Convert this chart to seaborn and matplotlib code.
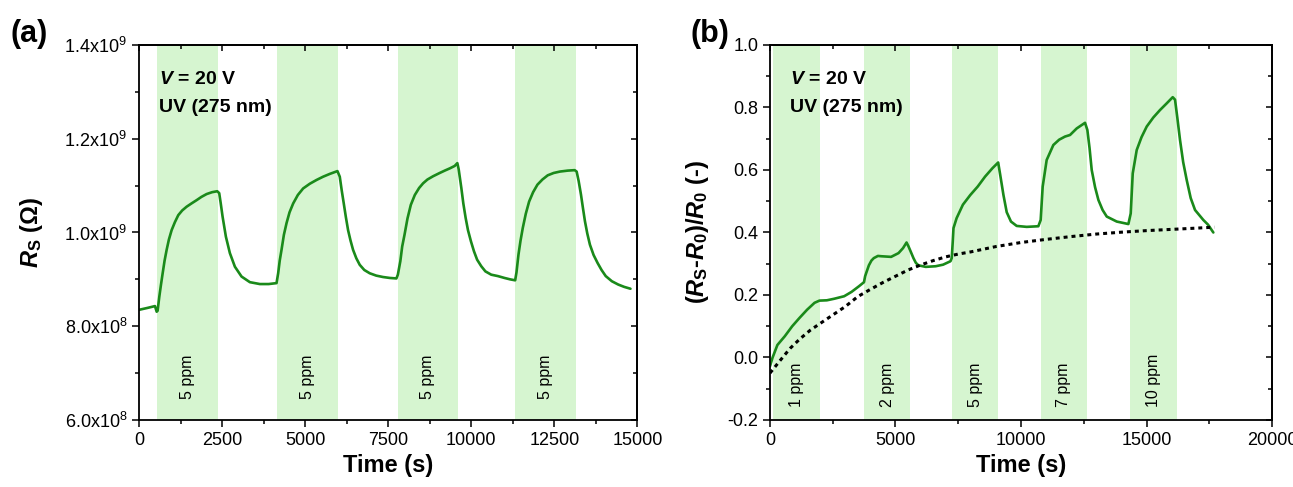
import numpy as np
import pandas as pd
import seaborn as sns
import matplotlib.pyplot as plt
from matplotlib.ticker import MultipleLocator

# ---- panel (a) data ----
t_a = [0, 250, 481, 532, 560, 611, 660, 712, 770, 832, 900, 982, 1080, 1182, 1300, 1433, 1580, 1734,
       1880, 2035, 2200, 2354, 2414, 2460, 2515, 2615, 2735, 2886, 3086, 3337, 3637, 3900, 4139,
       4188, 4235, 4289, 4360, 4440, 4530, 4640, 4780, 4940, 5140, 5341, 5540, 5742, 5972, 6042,
       6100, 6162, 6225, 6292, 6365, 6442, 6540, 6643, 6780, 6944, 7140, 7344, 7550, 7746,
       7790, 7865, 7920, 7990, 8080, 8180, 8300, 8430, 8550, 8680, 8850, 9050, 9200, 9360, 9500, 9580,
       9620, 9700, 9760, 9830, 9900, 9990, 10080, 10175, 10300, 10425, 10600, 10800, 11000, 11170, 11320,
       11360, 11420, 11480, 11550, 11640, 11740, 11860, 11990, 12140, 12300, 12480, 12670, 12900, 13110,
       13170, 13230, 13300, 13360, 13420, 13490, 13570, 13680, 13800, 13920, 14045, 14230, 14420, 14600, 14790]
r_a = [8.35e8, 8.39e8, 8.43e8, 8.31e8, 8.33e8, 8.63e8, 8.88e8, 9.13e8, 9.40e8, 9.63e8, 9.85e8, 1.005e9, 1.022e9,
       1.037e9, 1.047e9, 1.055e9, 1.062e9, 1.069e9, 1.076e9, 1.082e9, 1.086e9, 1.088e9, 1.084e9, 1.062e9, 1.034e9,
       9.91e8, 9.56e8, 9.27e8, 9.06e8, 8.94e8, 8.90e8, 8.90e8, 8.92e8,
       9.13e8, 9.40e8, 9.63e8, 9.95e8, 1.020e9, 1.043e9, 1.062e9, 1.080e9, 1.094e9, 1.104e9, 1.112e9, 1.119e9,
       1.125e9, 1.131e9, 1.119e9, 1.090e9, 1.062e9, 1.033e9, 1.005e9, 9.83e8, 9.63e8, 9.45e8, 9.31e8, 9.20e8,
       9.13e8, 9.08e8, 9.05e8, 9.03e8, 9.02e8,
       9.10e8, 9.39e8, 9.70e8, 9.95e8, 1.030e9, 1.059e9, 1.080e9, 1.095e9, 1.105e9, 1.113e9, 1.120e9, 1.127e9,
       1.132e9, 1.137e9, 1.142e9, 1.148e9,
       1.135e9, 1.095e9, 1.062e9, 1.031e9, 1.005e9, 9.81e8, 9.60e8, 9.42e8, 9.28e8, 9.17e8, 9.10e8, 9.07e8,
       9.03e8, 9.00e8, 8.98e8,
       9.15e8, 9.53e8, 9.82e8, 1.010e9, 1.040e9, 1.066e9, 1.086e9, 1.102e9, 1.113e9, 1.122e9, 1.127e9, 1.130e9,
       1.132e9, 1.133e9,
       1.130e9, 1.110e9, 1.081e9, 1.052e9, 1.024e9, 9.98e8, 9.74e8, 9.52e8, 9.35e8, 9.20e8, 9.07e8, 8.96e8,
       8.89e8, 8.84e8, 8.80e8]
bands_a = [(555, 2390), (4160, 5995), (7780, 9590), (11330, 13165)]
labels_a = ["5 ppm", "5 ppm", "5 ppm", "5 ppm"]
yticks_a = [6e8, 8e8, 1e9, 1.2e9, 1.4e9]
yticklabels_a = ["6.0x10$^{8}$", "8.0x10$^{8}$", "1.0x10$^{9}$", "1.2x10$^{9}$", "1.4x10$^{9}$"]
xticks_a = [0, 2500, 5000, 7500, 10000, 12500, 15000]

# ---- panel (b) data ----
t_b = [0, 100, 295, 590, 885, 1180, 1480, 1775, 1970, 2265, 2560, 2955, 3250, 3545, 3745,
       3790, 3840, 3940, 4040, 4135, 4300, 4430, 4825, 5120, 5300, 5440, 5515, 5600, 5715, 5810, 5910,
       6205, 6600, 6895, 7190, 7240, 7280, 7310, 7435, 7685, 7980, 8275, 8570, 8865, 9090,
       9170, 9300, 9430, 9600, 9828, 10226, 10690, 10783, 10863, 11022, 11288, 11520, 11753, 11952, 12218, 12550,
       12643, 12730, 12816, 12950, 13083, 13250, 13415, 13813, 14277, 14370, 14450, 14609, 14800, 15007, 15270,
       15538, 15800, 16043, 16135, 16230, 16334, 16460, 16600, 16760, 16932, 17263, 17450, 17661]
v_b = [-0.028, -0.001, 0.04, 0.068, 0.10, 0.127, 0.153, 0.175, 0.182, 0.183, 0.188, 0.196, 0.21, 0.228, 0.241,
       0.26, 0.272, 0.295, 0.31, 0.318, 0.325, 0.324, 0.322, 0.334, 0.35, 0.368, 0.356, 0.34, 0.318, 0.303, 0.295,
       0.29, 0.292, 0.297, 0.308, 0.318, 0.37, 0.414, 0.446, 0.489, 0.52, 0.547, 0.579, 0.606, 0.624,
       0.585, 0.52, 0.465, 0.435, 0.421, 0.418, 0.42, 0.44, 0.547, 0.632, 0.68, 0.697, 0.707, 0.712, 0.733, 0.751,
       0.728, 0.67, 0.6, 0.545, 0.504, 0.472, 0.451, 0.435, 0.427, 0.461, 0.589, 0.664, 0.705, 0.739, 0.768,
       0.792, 0.813, 0.833, 0.825, 0.765, 0.696, 0.625, 0.568, 0.51, 0.472, 0.44, 0.425, 0.40]
t_base = [0, 400, 800, 1200, 1600, 2000, 2500, 3000, 3500, 4000, 4500, 5000, 5500, 6000, 6500, 7000, 7500,
          8000, 9000, 10000, 11000, 12000, 13000, 14000, 15000, 16000, 17000, 17700]
v_base = [-0.05, -0.01, 0.029, 0.06, 0.087, 0.109, 0.136, 0.163, 0.195, 0.218, 0.24, 0.26, 0.28, 0.296, 0.31,
          0.322, 0.331, 0.338, 0.355, 0.368, 0.378, 0.387, 0.395, 0.401, 0.406, 0.41, 0.414, 0.417]
bands_b = [(130, 1990), (3760, 5590), (7260, 9100), (10780, 12640), (14340, 16200)]
labels_b = ["1 ppm", "2 ppm", "5 ppm", "7 ppm", "10 ppm"]
yticks_b = [-0.2, 0.0, 0.2, 0.4, 0.6, 0.8, 1.0]
xticks_b = [0, 5000, 10000, 15000, 20000]

sns.set_style("ticks")
plt.rcParams['font.family'] = ['Liberation Sans', 'DejaVu Sans']
plt.rcParams['mathtext.fontset'] = 'custom'
plt.rcParams['mathtext.rm'] = 'Liberation Sans'
plt.rcParams['mathtext.it'] = 'Liberation Sans:italic:bold'
plt.rcParams['mathtext.bf'] = 'Liberation Sans:bold'
for k in ['text.color', 'axes.labelcolor', 'xtick.color', 'ytick.color', 'axes.edgecolor']:
    plt.rcParams[k] = 'black'

green = '#1a8a1a'
band_col = '#d6f5d0'

fig = plt.figure(figsize=(12.93, 4.87), dpi=100)
ax1 = fig.add_axes([0.1075, 0.1376, 0.3855, 0.77])
ax2 = fig.add_axes([0.5955, 0.1376, 0.3883, 0.77])


def draw_bands(ax, bands, labels, ytext):
    for (a, b), lab in zip(bands, labels):
        ax.axvspan(a, b, color=band_col, lw=0, zorder=0)
        ax.text((a + b) / 2, ytext, lab, rotation=90, ha='center', va='bottom',
                fontsize=11.5, color='black')


# ---- panel (a) ----
draw_bands(ax1, bands_a, labels_a, 6.45e8)
df_a = pd.DataFrame({'t': t_a, 'r': r_a})
sns.lineplot(data=df_a, x='t', y='r', ax=ax1, color=green, lw=1.9, sort=False, estimator=None)
ax1.set_xlim(0, 15000)
ax1.set_ylim(6e8, 1.4e9)
ax1.set_xticks(xticks_a)
ax1.set_yticks(yticks_a)
ax1.set_yticklabels(yticklabels_a)
ax1.xaxis.set_minor_locator(MultipleLocator(1250))
ax1.yaxis.set_minor_locator(MultipleLocator(1e8))
ax1.set_xlabel('Time (s)', fontsize=17, fontweight='bold', labelpad=4)
ax1.set_ylabel(r'$\mathit{R}_\mathbf{S}$ ($\mathbf{\Omega}$)', fontsize=17, fontweight='bold', labelpad=14)
ax1.text(0.04, 0.93, r'$\mathit{V}$ = 20 V', transform=ax1.transAxes, fontsize=14,
         fontweight='bold', va='top')
ax1.text(0.04, 0.855, 'UV (275 nm)', transform=ax1.transAxes, fontsize=14,
         fontweight='bold', va='top')

# ---- panel (b) ----
draw_bands(ax2, bands_b, labels_b, -0.16)
df_b = pd.DataFrame({'t': t_b, 'v': v_b})
df_base = pd.DataFrame({'t': t_base, 'v': v_base})
sns.lineplot(data=df_b, x='t', y='v', ax=ax2, color=green, lw=1.9, sort=False, estimator=None)
sns.lineplot(data=df_base, x='t', y='v', ax=ax2, color='black', lw=2.2, sort=False,
             estimator=None, linestyle=(0, (1.3, 1.3)))
ax2.set_xlim(0, 20000)
ax2.set_ylim(-0.2, 1.0)
ax2.set_xticks(xticks_b)
ax2.set_yticks(yticks_b)
ax2.set_yticklabels([f'{v:.1f}' for v in yticks_b])
ax2.xaxis.set_minor_locator(MultipleLocator(2500))
ax2.yaxis.set_minor_locator(MultipleLocator(0.1))
ax2.set_xlabel('Time (s)', fontsize=17, fontweight='bold', labelpad=4)
ax2.set_ylabel(r'($\mathit{R}_\mathbf{S}$-$\mathit{R}_\mathbf{0}$)/$\mathit{R}_\mathbf{0}$ (-)',
               fontsize=17, fontweight='bold', labelpad=12)
ax2.text(0.04, 0.93, r'$\mathit{V}$ = 20 V', transform=ax2.transAxes, fontsize=14,
         fontweight='bold', va='top')
ax2.text(0.04, 0.855, 'UV (275 nm)', transform=ax2.transAxes, fontsize=14,
         fontweight='bold', va='top')

for ax in (ax1, ax2):
    for s in ax.spines.values():
        s.set_linewidth(1.3)
    ax.tick_params(axis='x', which='both', bottom=True, top=False, direction='out')
    ax.tick_params(axis='y', which='both', left=True, right=False, direction='out')
    ax.tick_params(which='major', length=5, width=1.1, labelsize=13)
    ax.tick_params(which='minor', length=3, width=1.1)
    # inward ticks on top/right
    sx = ax.secondary_xaxis('top')
    sx.set_xticks(ax.get_xticks())
    sx.xaxis.set_minor_locator(ax.xaxis.get_minor_locator())
    sx.tick_params(which='both', direction='in', labeltop=False, width=1.1)
    sx.tick_params(which='major', length=4)
    sx.tick_params(which='minor', length=3)
    sy = ax.secondary_yaxis('right')
    sy.set_yticks(ax.get_yticks())
    sy.yaxis.set_minor_locator(ax.yaxis.get_minor_locator())
    sy.tick_params(which='both', direction='in', labelright=False, width=1.1)
    sy.tick_params(which='major', length=4)
    sy.tick_params(which='minor', length=3)
    sx.spines['top'].set_linewidth(1.3)
    sy.spines['right'].set_linewidth(1.3)

fig.text(0.008, 0.93, '(a)', fontsize=22, fontweight='bold', va='center')
fig.text(0.534, 0.93, '(b)', fontsize=22, fontweight='bold', va='center')

fig.savefig('out.png', dpi=100)
